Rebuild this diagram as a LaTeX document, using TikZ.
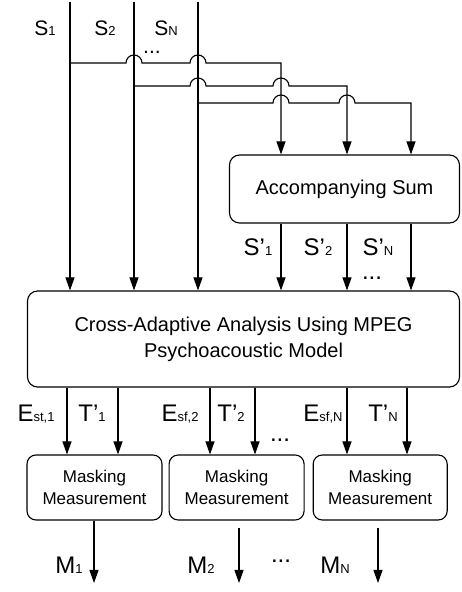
\documentclass[tikz,border=0pt]{standalone}
\usepackage{fontspec}
\setmainfont{Liberation Sans}
\usetikzlibrary{arrows.meta,positioning}

\newcommand{\sub}[1]{{\fontsize{13}{13}\selectfont #1}}

\begin{document}
\begin{tikzpicture}[x=1pt,y=1pt,line width=1.1pt,>={Triangle[width=9pt,length=13pt]}]
	\tikzstyle{block}=[draw,rounded corners=10pt,align=center,font=\fontsize{20}{26}\selectfont]
	\tikzstyle{mask}=[draw,rounded corners=9pt,align=center,minimum width=135pt,minimum height=65pt,font=\fontsize{17}{22}\selectfont]
	\tikzstyle{lab}=[inner sep=0pt,anchor=base,font=\fontsize{24}{24}\selectfont]
	\tikzstyle{toplab}=[inner sep=0pt,anchor=base,font=\fontsize{21}{21}\selectfont]
	\useasboundingbox (0,0) rectangle (461,592);

	\node[block,minimum width=432pt,minimum height=96pt] (cross) at (243.5,253) {Cross-Adaptive Analysis Using MPEG\\Psychoacoustic Model};
	\node[block,minimum width=230pt,minimum height=68pt] (sum) at (344.5,403) {Accompanying Sum};
	\node[mask] (mask1) at (94.5,104.5) {Masking\\Measurement};
	\node[mask] (mask2) [right = 6pt of mask1] {Masking\\Measurement};
	\node[mask,minimum width=134pt] (mask3) [right = 8pt of mask2] {Masking\\Measurement};

	% inputs
	\coordinate (s1) at (70,590);
	\coordinate (s2) at (134,590);
	\coordinate (s3) at (198,590);
	\foreach \s in {s1,s2,s3}
		\draw[->] (\s) -- (\s |- cross.north);

	% taps to the accompanying sum
	\coordinate (t1) at (281,529);
	\coordinate (t2) at (347,506);
	\coordinate (t3) at (411,489);
	\draw[->] (s1 |- t1) -- (126,529) arc[start angle=180,end angle=0,radius=8pt] -- (190,529) arc[start angle=180,end angle=0,radius=8pt] -- (t1) -- (t1 |- sum.north);
	\draw[->] (s2 |- t2) -- (190,506) arc[start angle=180,end angle=0,radius=8pt] -- (273,506) arc[start angle=180,end angle=0,radius=8pt] -- (t2) -- (t2 |- sum.north);
	\draw[->] (s3 |- t3) -- (273,489) arc[start angle=180,end angle=0,radius=8pt] -- (339,489) arc[start angle=180,end angle=0,radius=8pt] -- (t3) -- (t3 |- sum.north);
	\foreach \t in {t1,t2,t3}
		\draw[->] (\t |- sum.south) -- (\t |- cross.north);

	% analysis outputs
	\coordinate (e1) at (67,0);
	\coordinate (p1) at (118,0);
	\coordinate (e2) at (210,0);
	\coordinate (p2) at (255,0);
	\coordinate (e3) at (347,0);
	\coordinate (p3) at (407,0);
	\foreach \o in {e1,p1,e2,p2,e3,p3}
		\draw[->] (\o |- cross.south) -- (\o |- mask1.north);

	% results
	\coordinate (m1) at (94,9);
	\coordinate (m2) at (239,9);
	\coordinate (m3) at (378,9);
	\draw[->] (m1 |- mask1.south) -- (m1);
	\draw[->,shorten <=7pt] (m2 |- mask2.south) -- (m2);
	\draw[->,shorten <=7pt] (m3 |- mask3.south) -- (m3);

	% labels
	\node[toplab] (ls1) at (45,556) {S\sub{1}};
	\node[toplab] (ls2) at (105,556) {S\sub{2}};
	\node[toplab] (ls3) at (166,556) {S\sub{N}};
	\node[toplab] (ldots1) at (152,538) {...};
	\node[lab] (lq1) at (258,336) {S’\sub{1}};
	\node[lab] (lq2) at (318,336) {S’\sub{2}};
	\node[lab] (lq3) at (378,336) {S’\sub{N}};
	\node[lab] (ldots2) at (372,312) {...};
	\node[lab] (le1) at (36,170) {E\sub{st,1}};
	\node[lab] (lp1) at (92,170) {T’\sub{1}};
	\node[lab] (le2) at (180,170) {E\sub{sf,2}};
	\node[lab] (lp2) at (231,170) {T’\sub{2}};
	\node[lab] (le3) at (323,170) {E\sub{sf,N}};
	\node[lab] (lp3) at (383,170) {T’\sub{N}};
	\node[lab] (ldots3) at (280,150) {...};
	\node[lab] (lm1) at (69,19) {M\sub{1}};
	\node[lab] (lm2) at (201,19) {M\sub{2}};
	\node[lab] (lm3) at (335,19) {M\sub{N}};
	\node[lab] (ldots4) at (281,29) {...};
\end{tikzpicture}
\end{document}
